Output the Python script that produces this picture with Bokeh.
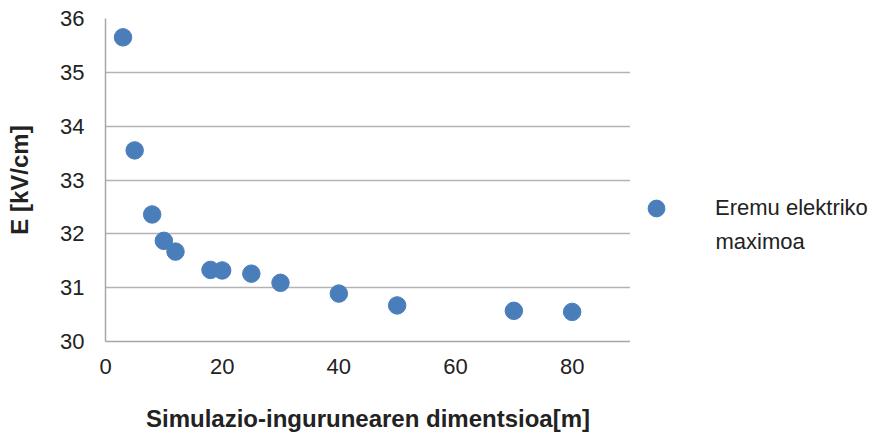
from bokeh.plotting import figure
from bokeh.models import Range1d, FixedTicker, Label
from bokeh.layouts import row
from bokeh.embed import file_html
from bokeh.resources import INLINE

sizes = [3, 5, 8, 10, 12, 18, 20, 25, 30, 40, 50, 70, 80]
e_max = [35.65, 33.55, 32.36, 31.87, 31.67, 31.33, 31.32, 31.26, 31.09, 30.89, 30.67, 30.57, 30.55]
x_ticks = [0, 20, 40, 60, 80]
y_ticks = [30, 31, 32, 33, 34, 35, 36]
series_name_lines = ["Eremu elektriko", "maximoa"]
x_label = "Simulazio-ingurunearen dimentsioa[m]"
y_label = "E [kV/cm]"

FONT = "Liberation Sans"
BLUE = "#4a7ebb"
TXT = "#222222"

p = figure(width=630, height=434, output_backend="svg", toolbar_location=None,
           x_range=Range1d(0, 90), y_range=Range1d(30, 36),
           min_border_left=105, min_border_right=0, min_border_top=18, min_border_bottom=93)
p.outline_line_color = None
p.background_fill_color = "white"

p.scatter(sizes, e_max, size=17.5, color=BLUE, line_color=BLUE)

for ax in (p.xaxis[0], p.yaxis[0]):
    ax.major_tick_line_color = None
    ax.minor_tick_line_color = None
    ax.axis_line_color = "#a6a6a6"
    ax.axis_line_width = 1.5
    ax.major_label_text_font = FONT
    ax.major_label_text_font_size = "22px"
    ax.major_label_text_color = TXT
    ax.axis_label_text_font = FONT
    ax.axis_label_text_font_style = "bold"
    ax.axis_label_text_font_size = "24px"
    ax.axis_label_text_color = TXT

p.xaxis.ticker = FixedTicker(ticks=x_ticks)
p.yaxis.ticker = FixedTicker(ticks=y_ticks)
p.xaxis.axis_label = x_label
p.yaxis.axis_label = y_label
p.xaxis.major_label_standoff = 11
p.xaxis.axis_label_standoff = 28
p.yaxis.major_label_standoff = 15
p.yaxis.axis_label_standoff = 24

p.xgrid.grid_line_color = None
p.ygrid.grid_line_color = "#b3b3b3"
p.ygrid.grid_line_width = 1.5
p.ygrid.ticker = FixedTicker(ticks=y_ticks)

# legend panel (its frame is aligned with the main frame: 323 px tall)
p2 = figure(width=246, height=434, output_backend="svg", toolbar_location=None,
            x_range=Range1d(0, 246), y_range=Range1d(0, 323),
            x_axis_type=None, y_axis_type=None,
            min_border_left=0, min_border_right=0, min_border_top=18, min_border_bottom=93)
p2.outline_line_color = None
p2.xgrid.grid_line_color = None
p2.ygrid.grid_line_color = None
p2.scatter(x=[float("nan")], y=[float("nan")], size=17, color=BLUE, line_color=BLUE,
           legend_label=series_name_lines[0])
lg = p2.legend[0]
lg.location = (5, 112)
lg.border_line_color = None
lg.background_fill_alpha = 0
lg.label_text_font = FONT
lg.label_text_font_size = "22px"
lg.label_text_color = TXT
lg.glyph_width = 42
lg.glyph_height = 42
lg.label_standoff = 38
lg.padding = 0
lg.margin = 0
p2.add_layout(Label(x=85, y=100, text=series_name_lines[1], text_font=FONT,
                    text_font_size="22px", text_color=TXT, text_baseline="middle"))

open("out.html", "w").write(file_html(row(p, p2), INLINE))
